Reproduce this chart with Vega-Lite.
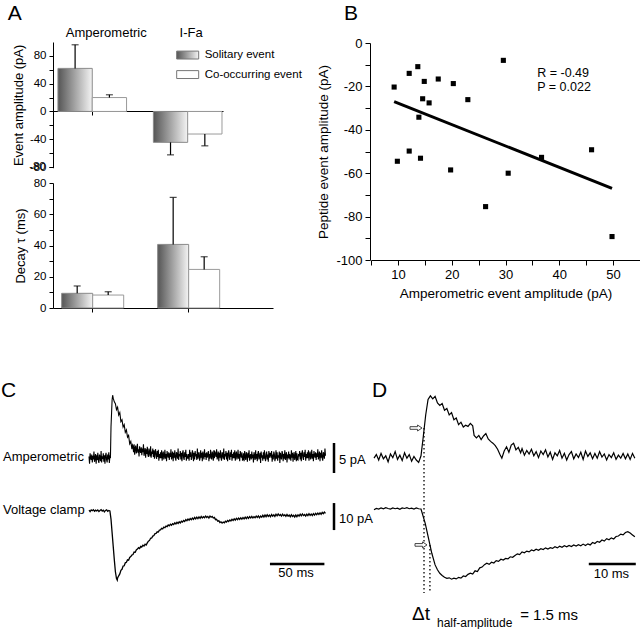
{
"$schema":"https://vega.github.io/schema/vega-lite/v6.json",
"width":640,"height":629,"autosize":{"type":"none"},"padding":0,"background":"white",
"config":{"font":"Liberation Sans","view":{"stroke":null},"axis":{"grid":false,"domainColor":"black","tickColor":"black","labelColor":"black","titleColor":"black","titleFontWeight":"normal","labelOverlap":false,"labelFlush":false,"labelBound":false}},
"datasets":{
"bars":[
{"measure":"amp","group":"Amperometric","type":"Solitary event","value":62,"errEnd":96},
{"measure":"amp","group":"Amperometric","type":"Co-occurring event","value":20,"errEnd":24},
{"measure":"amp","group":"I-Fa","type":"Solitary event","value":-44.5,"errEnd":-62.5},
{"measure":"amp","group":"I-Fa","type":"Co-occurring event","value":-32.5,"errEnd":-49.5},
{"measure":"decay","group":"Amperometric","type":"Solitary event","value":9.4,"errEnd":14.1},
{"measure":"decay","group":"Amperometric","type":"Co-occurring event","value":8.3,"errEnd":10.4},
{"measure":"decay","group":"I-Fa","type":"Solitary event","value":40.7,"errEnd":70.8},
{"measure":"decay","group":"I-Fa","type":"Co-occurring event","value":24.7,"errEnd":32.8}],
"pts":[{"amp":9.3,"pep":-20.3},{"amp":12.1,"pep":-14},{"amp":13.7,"pep":-10.9},{"amp":14.9,"pep":-17.7},{"amp":17.5,"pep":-16.6},{"amp":20.3,"pep":-18.7},{"amp":14.6,"pep":-25.7},{"amp":15.8,"pep":-27.6},{"amp":23,"pep":-26.1},{"amp":29.6,"pep":-8},{"amp":13.9,"pep":-34.2},{"amp":9.9,"pep":-54.5},{"amp":12.1,"pep":-49.8},{"amp":14.2,"pep":-53.1},{"amp":36.7,"pep":-52.7},{"amp":46,"pep":-49.2},{"amp":19.8,"pep":-58.5},{"amp":30.5,"pep":-60},{"amp":26.3,"pep":-75.4},{"amp":49.8,"pep":-89.2}],
"fit":[{"amp":9.3,"pep":-27},{"amp":49.8,"pep":-67}],
"cAmp":[{"t":0,"v":0.1},{"t":0.5,"v":-1.1},{"t":1,"v":0.6},{"t":1.5,"v":-0.1},{"t":2,"v":-0.5},{"t":2.5,"v":0.4},{"t":3,"v":-0.9},{"t":3.5,"v":0.2},{"t":4,"v":-0.4},{"t":4.5,"v":0.9},{"t":5,"v":-0.8},{"t":5.5,"v":-0.2},{"t":6,"v":0.5},{"t":6.5,"v":-1.1},{"t":7,"v":0.3},{"t":7.5,"v":-0.5},{"t":8,"v":0.7},{"t":8.5,"v":-0.6},{"t":9,"v":-1},{"t":9.5,"v":0.4},{"t":10,"v":0},{"t":10.5,"v":-0.7},{"t":11,"v":1},{"t":11.5,"v":-0.9},{"t":12,"v":0.1},{"t":12.5,"v":-0.3},{"t":13,"v":0.6},{"t":13.5,"v":-0.8},{"t":14,"v":0.3},{"t":14.5,"v":-1.1},{"t":15,"v":0.2},{"t":15.5,"v":0.7},{"t":16,"v":-0.5},{"t":16.5,"v":-0.9},{"t":17,"v":0.4},{"t":17.5,"v":-0.4},{"t":18,"v":0.8},{"t":18.5,"v":-1},{"t":19,"v":0.1},
{"t":19.5,"v":0},{"t":20,"v":5},{"t":21,"v":9.5},{"t":21.5,"v":10.3},{"t":22,"v":9.8},{"t":23,"v":9.2},{"t":24,"v":8.9},{"t":25,"v":7.9},{"t":26,"v":8.3},{"t":27,"v":7},{"t":28,"v":7.4},{"t":29,"v":5.9},{"t":30,"v":6.2},{"t":31,"v":5},{"t":32,"v":5.4},{"t":33,"v":4.1},{"t":34,"v":4.5},{"t":35,"v":3.3},{"t":36,"v":3.6},{"t":37,"v":2.2},{"t":38,"v":2.6},{"t":39,"v":1.3},{"t":39.5,"v":2},
{"t":40,"v":1.8},{"t":40.5,"v":0.8},{"t":41,"v":2.1},{"t":41.5,"v":0.4},{"t":42,"v":1.4},{"t":42.5,"v":1.9},{"t":43,"v":0.6},{"t":43.5,"v":1.1},{"t":44,"v":2.2},{"t":44.5,"v":0.7},
{"t":45,"v":1.3},{"t":45.5,"v":0.1},{"t":46,"v":1.8},{"t":46.5,"v":1.1},{"t":47,"v":0.7},{"t":47.5,"v":1.6},{"t":48,"v":0.3},{"t":48.5,"v":1.4},{"t":49,"v":0.8},{"t":49.5,"v":2.1},
{"t":50,"v":0.2},{"t":50.5,"v":0.8},{"t":51,"v":1.5},{"t":51.5,"v":-0.1},{"t":52,"v":1.3},{"t":52.5,"v":0.5},{"t":53,"v":1.7},{"t":53.5,"v":0.4},{"t":54,"v":0},{"t":54.5,"v":1.4},
{"t":55,"v":0.8},{"t":55.5,"v":0.1},{"t":56,"v":1.8},{"t":56.5,"v":-0.1},{"t":57,"v":0.9},{"t":57.5,"v":0.5},{"t":58,"v":1.4},{"t":58.5,"v":0},{"t":59,"v":1.1},{"t":59.5,"v":-0.3},
{"t":60,"v":0.8},{"t":60.5,"v":1.3},{"t":61,"v":0.1},{"t":61.5,"v":-0.3},{"t":62,"v":1},{"t":62.5,"v":0},{"t":63,"v":1.2},{"t":63.5,"v":-0.6},{"t":64,"v":0.5},{"t":64.5,"v":-0.2},
{"t":65,"v":0.8},{"t":65.5,"v":-0.2},{"t":66,"v":1.1},{"t":66.5,"v":-0.6},{"t":67,"v":0.4},{"t":67.5,"v":0.9},{"t":68,"v":-0.4},{"t":68.5,"v":0.1},{"t":69,"v":1.2},{"t":69.5,"v":-0.3},
{"t":70,"v":0.5},{"t":70.5,"v":-0.7},{"t":71,"v":1},{"t":71.5,"v":0.3},{"t":72,"v":-0.1},{"t":72.5,"v":0.8},{"t":73,"v":-0.5},{"t":73.5,"v":0.6},{"t":74,"v":0},{"t":74.5,"v":1.3},
{"t":75,"v":-0.4},{"t":75.5,"v":0.2},{"t":76,"v":0.9},{"t":76.5,"v":-0.7},{"t":77,"v":0.7},{"t":77.5,"v":-0.1},{"t":78,"v":1.1},{"t":78.5,"v":-0.2},{"t":79,"v":-0.6},{"t":79.5,"v":0.8},
{"t":80,"v":0.4},{"t":80.5,"v":-0.3},{"t":81,"v":1.4},{"t":81.5,"v":-0.5},{"t":82,"v":0.5},{"t":82.5,"v":0.1},{"t":83,"v":1},{"t":83.5,"v":-0.4},{"t":84,"v":0.7},{"t":84.5,"v":-0.7},
{"t":85,"v":0.6},{"t":85.5,"v":1.1},{"t":86,"v":-0.1},{"t":86.5,"v":-0.5},{"t":87,"v":0.8},{"t":87.5,"v":0},{"t":88,"v":1.2},{"t":88.5,"v":-0.6},{"t":89,"v":0.5},{"t":89.5,"v":-0.2},
{"t":90,"v":-0.2},{"t":90.5,"v":0.5},{"t":91,"v":-0.6},{"t":91.5,"v":1.2},{"t":92,"v":0},{"t":92.5,"v":0.8},{"t":93,"v":-0.5},{"t":93.5,"v":-0.1},{"t":94,"v":1.1},{"t":94.5,"v":0.6},
{"t":95,"v":-0.7},{"t":95.5,"v":0.7},{"t":96,"v":-0.4},{"t":96.5,"v":1},{"t":97,"v":0.1},{"t":97.5,"v":0.5},{"t":98,"v":-0.5},{"t":98.5,"v":1.4},{"t":99,"v":-0.3},{"t":99.5,"v":0.4},
{"t":100,"v":0.8},{"t":100.5,"v":-0.6},{"t":101,"v":-0.2},{"t":101.5,"v":1.1},{"t":102,"v":-0.1},{"t":102.5,"v":0.7},{"t":103,"v":-0.7},{"t":103.5,"v":0.9},{"t":104,"v":0.2},{"t":104.5,"v":-0.4},
{"t":105,"v":1.3},{"t":105.5,"v":0},{"t":106,"v":0.6},{"t":106.5,"v":-0.5},{"t":107,"v":0.8},{"t":107.5,"v":-0.1},{"t":108,"v":0.3},{"t":108.5,"v":1},{"t":109,"v":-0.7},{"t":109.5,"v":0.5},
{"t":110,"v":-0.3},{"t":110.5,"v":1.2},{"t":111,"v":0.1},{"t":111.5,"v":-0.4},{"t":112,"v":0.9},{"t":112.5,"v":0.4},{"t":113,"v":-0.6},{"t":113.5,"v":1.1},{"t":114,"v":-0.2},{"t":114.5,"v":0.8},
{"t":115,"v":0.6},{"t":115.5,"v":0},{"t":116,"v":1.3},{"t":116.5,"v":-0.4},{"t":117,"v":0.2},{"t":117.5,"v":0.9},{"t":118,"v":-0.7},{"t":118.5,"v":0.7},{"t":119,"v":-0.1},{"t":119.5,"v":1.1},
{"t":120,"v":-0.2},{"t":120.5,"v":-0.6},{"t":121,"v":0.8},{"t":121.5,"v":0.4},{"t":122,"v":-0.3},{"t":122.5,"v":1.4},{"t":123,"v":-0.5},{"t":123.5,"v":0.5},{"t":124,"v":0.1},{"t":124.5,"v":1},
{"t":125,"v":-0.4},{"t":125.5,"v":0.7},{"t":126,"v":-0.7},{"t":126.5,"v":0.6},{"t":127,"v":1.1},{"t":127.5,"v":-0.1},{"t":128,"v":-0.5},{"t":128.5,"v":0.8},{"t":129,"v":0},{"t":129.5,"v":1.2},
{"t":130,"v":-0.6},{"t":130.5,"v":0.5},{"t":131,"v":-0.2},{"t":131.5,"v":0.8},{"t":132,"v":-0.2},{"t":132.5,"v":1.1},{"t":133,"v":-0.6},{"t":133.5,"v":0.4},{"t":134,"v":0.9},{"t":134.5,"v":-0.4},
{"t":135,"v":0.1},{"t":135.5,"v":1.2},{"t":136,"v":-0.3},{"t":136.5,"v":0.5},{"t":137,"v":-0.7},{"t":137.5,"v":1},{"t":138,"v":0.3},{"t":138.5,"v":-0.1},{"t":139,"v":0.8},{"t":139.5,"v":-0.5},
{"t":140,"v":-0.4},{"t":140.5,"v":0.6},{"t":141,"v":-0.7},{"t":141.5,"v":1},{"t":142,"v":0},{"t":142.5,"v":-0.5},{"t":143,"v":0.8},{"t":143.5,"v":0.3},{"t":144,"v":-0.8},{"t":144.5,"v":0.7},
{"t":145,"v":-0.1},{"t":145.5,"v":1.1},{"t":146,"v":-0.6},{"t":146.5,"v":0.1},{"t":147,"v":0.5},{"t":147.5,"v":-0.4},{"t":148,"v":0.9},{"t":148.5,"v":-0.2},{"t":149,"v":0.4},{"t":149.5,"v":-0.9},
{"t":150,"v":0.8},{"t":150.5,"v":0.2},{"t":151,"v":-0.5},{"t":151.5,"v":1.1},{"t":152,"v":-0.3},{"t":152.5,"v":0.5},{"t":153,"v":-0.7},{"t":153.5,"v":0.6},{"t":154,"v":1},{"t":154.5,"v":-0.4},
{"t":155,"v":0},{"t":155.5,"v":0.7},{"t":156,"v":-1},{"t":156.5,"v":0.9},{"t":157,"v":-0.1},{"t":157.5,"v":0.3},{"t":158,"v":-0.6},{"t":158.5,"v":0.8},{"t":159,"v":-0.3},{"t":159.5,"v":1.1},
{"t":160,"v":-0.2},{"t":160.5,"v":-0.7},{"t":161,"v":0.5},{"t":161.5,"v":0.9},{"t":162,"v":-0.4},{"t":162.5,"v":0.4},{"t":163,"v":-0.8},{"t":163.5,"v":1},{"t":164,"v":-0.1},{"t":164.5,"v":0.6},
{"t":165,"v":0.6},{"t":165.5,"v":-0.1},{"t":166,"v":1},{"t":166.5,"v":-0.8},{"t":167,"v":0.4},{"t":167.5,"v":-0.4},{"t":168,"v":0.9},{"t":168.5,"v":0.5},{"t":169,"v":-0.7},{"t":169.5,"v":-0.2},
{"t":170,"v":1.1},{"t":170.5,"v":-0.3},{"t":171,"v":0.8},{"t":171.5,"v":-0.6},{"t":172,"v":0.3},{"t":172.5,"v":-0.1},{"t":173,"v":0.9},{"t":173.5,"v":-1},{"t":174,"v":0.7},{"t":174.5,"v":0},
{"t":175,"v":-0.4},{"t":175.5,"v":1},{"t":176,"v":0.6},{"t":176.5,"v":-0.7},{"t":177,"v":0.5},{"t":177.5,"v":-0.3},{"t":178,"v":1.1},{"t":178.5,"v":-0.5},{"t":179,"v":0.2},{"t":179.5,"v":0.8},
{"t":180,"v":-0.9},{"t":180.5,"v":0.4},{"t":181,"v":-0.2},{"t":181.5,"v":0.9},{"t":182,"v":-0.4},{"t":182.5,"v":0.5},{"t":183,"v":0.1},{"t":183.5,"v":-0.6},{"t":184,"v":1.1},{"t":184.5,"v":-0.1},
{"t":185,"v":0.7},{"t":185.5,"v":-0.8},{"t":186,"v":0.3},{"t":186.5,"v":0.8},{"t":187,"v":-0.5},{"t":187.5,"v":0},{"t":188,"v":1},{"t":188.5,"v":-0.7},{"t":189,"v":0.6},{"t":189.5,"v":-0.4},
{"t":190,"v":-0.5},{"t":190.5,"v":0.5},{"t":191,"v":0.1},{"t":191.5,"v":1},{"t":192,"v":-0.4},{"t":192.5,"v":0.7},{"t":193,"v":-0.7},{"t":193.5,"v":0.6},{"t":194,"v":1.1},{"t":194.5,"v":-0.1},
{"t":195,"v":-0.5},{"t":195.5,"v":0.8},{"t":196,"v":0},{"t":196.5,"v":1.2},{"t":197,"v":-0.6},{"t":197.5,"v":0.5},{"t":198,"v":-0.2},{"t":198.5,"v":0.8},{"t":199,"v":-0.2},{"t":199.5,"v":1.1},
{"t":200,"v":-0.6},{"t":200.5,"v":0.4},{"t":201,"v":0.9},{"t":201.5,"v":-0.4},{"t":202,"v":0.1},{"t":202.5,"v":1.2},{"t":203,"v":-0.3},{"t":203.5,"v":0.5},{"t":204,"v":-0.7},{"t":204.5,"v":1},
{"t":205,"v":0.3},{"t":205.5,"v":-0.1},{"t":206,"v":0.8},{"t":206.5,"v":-0.5},{"t":207,"v":0.6},{"t":207.5,"v":0},{"t":208,"v":1.3},{"t":208.5,"v":-0.4},{"t":209,"v":0.2},{"t":209.5,"v":0.9},
{"t":210,"v":-0.7},{"t":210.5,"v":0.7},{"t":211,"v":-0.1},{"t":211.5,"v":1.1},{"t":212,"v":-0.2},{"t":212.5,"v":-0.6},{"t":213,"v":0.8},{"t":213.5,"v":0.4},{"t":214,"v":-0.3},{"t":214.5,"v":1.4},{"t":215,"v":0.2}],
"cVC":[{"t":0,"v":0.3},{"t":1,"v":-0.2},{"t":2,"v":0.4},{"t":3,"v":0.1},{"t":4,"v":0.5},{"t":5,"v":-0.1},{"t":6,"v":0.3},{"t":7,"v":0},{"t":8,"v":0.4},{"t":9,"v":-0.2},{"t":10,"v":0.2},{"t":11,"v":0.5},{"t":12,"v":0},{"t":13,"v":0.3},{"t":14,"v":-0.3},{"t":15,"v":0.2},{"t":16,"v":0.4},{"t":17,"v":-0.1},{"t":18,"v":0.2},{"t":19,"v":0},{"t":20,"v":-3},{"t":21,"v":-8},{"t":22,"v":-13},{"t":23,"v":-18},{"t":24,"v":-22.5},{"t":25,"v":-25},{"t":25.7,"v":-25.6},
{"t":26,"v":-24.8},{"t":27,"v":-24},{"t":28,"v":-23.3},{"t":29,"v":-22},{"t":30,"v":-21.6},{"t":31,"v":-20.4},{"t":32,"v":-20.3},{"t":33,"v":-19.2},{"t":34,"v":-19},{"t":35,"v":-18.1},{"t":36,"v":-18.2},{"t":37,"v":-17.2},{"t":38,"v":-16.9},{"t":39,"v":-16.3},{"t":40,"v":-16.1},{"t":41,"v":-15.2},{"t":42,"v":-15.3},{"t":43,"v":-14.4},{"t":44,"v":-14.1},{"t":45,"v":-13.6},{"t":46,"v":-13.9},{"t":47,"v":-13.1},{"t":48,"v":-13.3},{"t":49,"v":-12.7},{"t":50,"v":-13},{"t":51,"v":-12.3},{"t":52,"v":-12.6},{"t":53,"v":-11.8},{"t":54,"v":-11.2},{"t":55,"v":-10.9},{"t":56,"v":-10.1},{"t":57,"v":-10},{"t":58,"v":-9.3},{"t":59,"v":-9.1},{"t":60,"v":-8.4},{"t":61,"v":-8.3},{"t":62,"v":-7.7},{"t":63,"v":-7.8},{"t":64,"v":-7.1},{"t":65,"v":-7},{"t":66,"v":-6.4},{"t":67,"v":-6.6},{"t":68,"v":-6},{"t":69,"v":-6.2},{"t":70,"v":-5.6},{"t":71,"v":-5.8},{"t":72,"v":-5.2},{"t":73,"v":-5.5},{"t":74,"v":-4.9},{"t":75,"v":-5.3},{"t":76,"v":-4.7},{"t":77,"v":-5},{"t":78,"v":-4.4},{"t":79,"v":-4.8},{"t":80,"v":-4.2},{"t":81,"v":-4.6},{"t":82,"v":-4},{"t":83,"v":-4.4},{"t":84,"v":-3.8},{"t":85,"v":-4.1},{"t":86,"v":-3.5},{"t":87,"v":-3.9},{"t":88,"v":-3.2},{"t":89,"v":-3.6},{"t":90,"v":-3},{"t":91,"v":-3.4},{"t":92,"v":-2.8},{"t":93,"v":-3.2},{"t":94,"v":-2.6},{"t":95,"v":-3.1},{"t":96,"v":-2.4},{"t":97,"v":-2.9},{"t":98,"v":-2.3},{"t":99,"v":-2.8},{"t":100,"v":-2.2},{"t":101,"v":-2.7},{"t":102,"v":-2},{"t":103,"v":-2.6},{"t":104,"v":-2.1},{"t":105,"v":-2.5},{"t":106,"v":-1.9},{"t":107,"v":-2.4},{"t":108,"v":-2},{"t":109,"v":-2.6},{"t":110,"v":-1.9},{"t":111,"v":-2.3},{"t":112,"v":-2},{"t":113,"v":-2.6},{"t":114,"v":-2.4},{"t":115,"v":-3.2},{"t":116,"v":-3.1},{"t":117,"v":-3.8},{"t":118,"v":-3.6},{"t":119,"v":-4.3},{"t":120,"v":-4},{"t":121,"v":-4.5},{"t":122,"v":-4.1},{"t":123,"v":-4.4},{"t":124,"v":-3.8},{"t":125,"v":-4.1},{"t":126,"v":-3.5},{"t":127,"v":-3.9},{"t":128,"v":-3.3},{"t":129,"v":-3.7},{"t":130,"v":-3.1},{"t":131,"v":-3.5},{"t":132,"v":-2.9},{"t":133,"v":-3.4},{"t":134,"v":-2.7},{"t":135,"v":-3.2},{"t":136,"v":-2.6},{"t":137,"v":-3.1},{"t":138,"v":-2.5},{"t":139,"v":-3},{"t":140,"v":-2.4},{"t":141,"v":-2.9},{"t":142,"v":-2.3},{"t":143,"v":-2.8},{"t":144,"v":-2.2},{"t":145,"v":-2.7},{"t":146,"v":-2.1},{"t":147,"v":-2.6},{"t":148,"v":-2},{"t":149,"v":-2.6},{"t":150,"v":-2.1},{"t":151,"v":-2.5},{"t":152,"v":-1.9},{"t":153,"v":-2.4},{"t":154,"v":-1.8},{"t":155,"v":-2.5},{"t":156,"v":-1.9},{"t":157,"v":-2.3},{"t":158,"v":-1.6},{"t":159,"v":-2.2},{"t":160,"v":-1.5},{"t":161,"v":-2.1},{"t":162,"v":-1.4},{"t":163,"v":-2},{"t":164,"v":-1.5},{"t":165,"v":-2.1},{"t":166,"v":-1.3},{"t":167,"v":-1.9},{"t":168,"v":-1.4},{"t":169,"v":-2},{"t":170,"v":-1.2},{"t":171,"v":-1.8},{"t":172,"v":-1.1},{"t":173,"v":-1.7},{"t":174,"v":-1.3},{"t":175,"v":-1.9},{"t":176,"v":-1.2},{"t":177,"v":-1.8},{"t":178,"v":-1.4},{"t":179,"v":-2},{"t":180,"v":-1.3},{"t":181,"v":-1.9},{"t":182,"v":-1.5},{"t":183,"v":-2.1},{"t":184,"v":-1.4},{"t":185,"v":-2},{"t":186,"v":-1.6},{"t":187,"v":-2.2},{"t":188,"v":-1.5},{"t":189,"v":-2.1},{"t":190,"v":-1.4},{"t":191,"v":-1.9},{"t":192,"v":-1.2},{"t":193,"v":-1.8},{"t":194,"v":-1.1},{"t":195,"v":-1.7},{"t":196,"v":-1.3},{"t":197,"v":-1.9},{"t":198,"v":-1.2},{"t":199,"v":-1.7},{"t":200,"v":-1},{"t":201,"v":-1.6},{"t":202,"v":-1.1},{"t":203,"v":-1.7},{"t":204,"v":-1},{"t":205,"v":-1.5},{"t":206,"v":-0.9},{"t":207,"v":-1.4},{"t":208,"v":-0.8},{"t":209,"v":-1.3},{"t":210,"v":-0.7},{"t":211,"v":-1.2},{"t":212,"v":-0.5},{"t":213,"v":-1},{"t":214,"v":-0.4},{"t":215,"v":-0.9}],
"dAmp":[{"t":0,"v":-0.2},{"t":0.5,"v":0.4},{"t":1,"v":-0.5},{"t":1.5,"v":0.6},{"t":2,"v":-0.3},{"t":2.5,"v":0.2},{"t":3,"v":-0.8},{"t":3.5,"v":0.5},{"t":4,"v":-0.1},{"t":4.5,"v":0.9},{"t":5,"v":-0.4},{"t":5.5,"v":0.3},{"t":6,"v":-0.6},{"t":6.5,"v":0.7},{"t":7,"v":-0.2},{"t":7.5,"v":0.4},{"t":8,"v":-0.7},{"t":8.5,"v":0.1},{"t":9,"v":-0.5},{"t":9.5,"v":-0.9},{"t":10,"v":0.2},{"t":10.5,"v":3.5},{"t":11,"v":7},{"t":11.5,"v":9.6},{"t":12,"v":10.2},{"t":12.5,"v":9.7},{"t":13,"v":10.1},{"t":13.5,"v":9},{"t":14,"v":8.6},{"t":14.5,"v":8.9},{"t":15,"v":7.8},{"t":15.5,"v":8.1},{"t":16,"v":7},{"t":16.5,"v":7.4},{"t":17,"v":6.2},{"t":17.5,"v":6.5},{"t":18,"v":5.4},{"t":18.5,"v":5.8},{"t":19,"v":5},{"t":19.5,"v":5.3},{"t":20,"v":5.1},{"t":20.5,"v":5.6},{"t":21,"v":5.2},{"t":21.3,"v":3.6},{"t":21.8,"v":3.2},{"t":22.3,"v":3.6},{"t":22.8,"v":2.9},{"t":23.3,"v":3.5},{"t":23.8,"v":3.9},{"t":24.3,"v":3},{"t":24.8,"v":2.6},{"t":25.3,"v":2.3},{"t":25.8,"v":1.9},{"t":26.3,"v":1.3},{"t":26.8,"v":0.4},{"t":27.2,"v":-0.2},{"t":27.7,"v":1},{"t":28.2,"v":1.7},{"t":28.7,"v":0.8},{"t":29.2,"v":2},{"t":29.7,"v":2.3},{"t":30.2,"v":1.2},{"t":30.7,"v":1.6},{"t":31.2,"v":0.7},{"t":31.5,"v":1.4},{"t":32,"v":0.3},{"t":32.5,"v":1.1},{"t":33,"v":0.5},{"t":33.5,"v":1.3},{"t":34,"v":0.2},{"t":34.5,"v":0.9},{"t":35,"v":-0.1},{"t":35.5,"v":1},{"t":36,"v":0.4},{"t":36.5,"v":1.2},{"t":37,"v":0},{"t":37.5,"v":0.8},{"t":38,"v":-0.4},{"t":38.5,"v":0.7},{"t":39,"v":0.2},{"t":39.5,"v":1.1},{"t":40,"v":-0.2},{"t":40.5,"v":0.6},{"t":41,"v":-0.5},{"t":41.5,"v":0.4},{"t":42,"v":0.9},{"t":42.5,"v":-0.3},{"t":43,"v":0.5},{"t":43.5,"v":-0.1},{"t":44,"v":0.8},{"t":44.5,"v":-0.4},{"t":45,"v":1},{"t":45.5,"v":0.1},{"t":46,"v":0.7},{"t":46.5,"v":-0.3},{"t":47,"v":0.6},{"t":47.5,"v":-0.2},{"t":48,"v":0.9},{"t":48.5,"v":0},{"t":49,"v":0.5},{"t":49.5,"v":-0.5},{"t":50,"v":0.4},{"t":50.5,"v":-0.1},{"t":51,"v":0.7},{"t":51.5,"v":-0.4},{"t":52,"v":0.3},{"t":52.5,"v":-0.2},{"t":53,"v":0.6},{"t":53.5,"v":-0.3},{"t":54,"v":0.5},{"t":54.5,"v":-0.4},{"t":55,"v":0.6},{"t":55.5,"v":-0.2}],
"dVC":[{"t":0,"v":-0.3},{"t":0.5,"v":0.2},{"t":1,"v":0},{"t":1.5,"v":0.4},{"t":2,"v":0.1},{"t":2.5,"v":0.5},{"t":3,"v":0.2},{"t":3.5,"v":0},{"t":4,"v":0.4},{"t":4.5,"v":0.1},{"t":5,"v":0.3},{"t":5.5,"v":-0.1},{"t":6,"v":0.4},{"t":6.5,"v":0.2},{"t":7,"v":0.5},{"t":7.5,"v":0.1},{"t":8,"v":0.3},{"t":8.5,"v":0},{"t":9,"v":0.4},{"t":9.5,"v":0.1},{"t":10,"v":0},{"t":10.9,"v":-5.3},{"t":11.6,"v":-10.9},{"t":12.3,"v":-16.4},{"t":13,"v":-20.7},{"t":13.5,"v":-22.5},{"t":14,"v":-23.8},{"t":14.5,"v":-24.6},{"t":15,"v":-25.3},{"t":15.5,"v":-25.7},{"t":16,"v":-25.5},{"t":16.5,"v":-26},{"t":17,"v":-25.6},{"t":17.5,"v":-25.9},{"t":18,"v":-25.3},{"t":18.5,"v":-25.6},{"t":19,"v":-24.8},{"t":19.5,"v":-25},{"t":20,"v":-24.2},{"t":20.5,"v":-23.8},{"t":21,"v":-24.1},{"t":21.5,"v":-22.9},{"t":22,"v":-23.2},{"t":22.5,"v":-21.8},{"t":23,"v":-21.5},{"t":23.5,"v":-20.6},{"t":24,"v":-20.1},{"t":24.5,"v":-20.5},{"t":25,"v":-19.7},{"t":25.5,"v":-20},{"t":26,"v":-19.1},{"t":26.5,"v":-19.4},{"t":27,"v":-18.6},{"t":27.5,"v":-18.9},{"t":28,"v":-18.3},{"t":28.5,"v":-18.5},{"t":29,"v":-17.7},{"t":29.5,"v":-17.9},{"t":30,"v":-17.2},{"t":30.5,"v":-16.6},{"t":31,"v":-16.9},{"t":31.5,"v":-15.9},{"t":32,"v":-16.2},{"t":32.5,"v":-15.6},{"t":33,"v":-15.9},{"t":33.5,"v":-15.2},{"t":34,"v":-15.5},{"t":34.5,"v":-14.9},{"t":35,"v":-15.3},{"t":35.5,"v":-14.7},{"t":36,"v":-15},{"t":36.5,"v":-14.4},{"t":37,"v":-14.8},{"t":37.5,"v":-14.3},{"t":38,"v":-14.6},{"t":38.5,"v":-14},{"t":39,"v":-14.4},{"t":39.5,"v":-13.8},{"t":40,"v":-14.2},{"t":40.5,"v":-13.6},{"t":41,"v":-14},{"t":41.5,"v":-13.5},{"t":42,"v":-13.9},{"t":42.5,"v":-13.3},{"t":43,"v":-13.7},{"t":43.5,"v":-13.2},{"t":44,"v":-13.6},{"t":44.5,"v":-13},{"t":45,"v":-13.5},{"t":45.5,"v":-12.9},{"t":46,"v":-13.3},{"t":46.5,"v":-12.4},{"t":47,"v":-12.8},{"t":47.5,"v":-12},{"t":48,"v":-12.3},{"t":48.5,"v":-11.5},{"t":49,"v":-11.9},{"t":49.5,"v":-11},{"t":50,"v":-11.4},{"t":50.5,"v":-10.7},{"t":51,"v":-11.1},{"t":51.5,"v":-10.2},{"t":52,"v":-10},{"t":52.5,"v":-9.3},{"t":53,"v":-9.6},{"t":53.5,"v":-8.7},{"t":54,"v":-8.4},{"t":54.5,"v":-8.9},{"t":55,"v":-9.6},{"t":55.5,"v":-10.3}]
},
"resolve":{"scale":{"x":"independent","y":"independent","xOffset":"independent"},"axis":{"x":"independent","y":"independent"}},
"layer":[
{
"data":{"name":"bars"},
"transform":[{"filter":"datum.measure === 'amp'"}],
"resolve":{"axis":{"x":"independent","y":"independent"}},
"layer":[
{"transform":[{"filter":"datum.type === 'Solitary event'"}],
"mark":{"type":"bar","fill":{"gradient":"linear","x1":0,"y1":0,"x2":1,"y2":0,"stops":[{"offset":0,"color":"#555555"},{"offset":1,"color":"#f4f4f4"}]},"stroke":"#8a8a8a","strokeWidth":1},
"encoding":{
"x":{"field":"group","type":"nominal","scale":{"domain":["Amperometric","I-Fa"],"range":[53,223],"paddingInner":0.281,"paddingOuter":0.03125,"align":0.83},"axis":{"orient":"bottom","offset":-518,"labels":false,"title":null,"tickSize":4}},
"xOffset":{"field":"type","type":"nominal","scale":{"domain":["Solitary event","Co-occurring event"],"paddingInner":0,"paddingOuter":0}},
"y":{"field":"value","type":"quantitative","scale":{"domain":[-81,100],"range":[167.7,42],"nice":false,"zero":false},"axis":{"orient":"left","offset":-53,"values":[-80,-40,0,40,80],"labelExpr":"'' + datum.value","title":"Event amplitude (pA)","tickSize":4,"labelPadding":3,"labelFontSize":11.5,"titleFontSize":13,"titlePadding":4,"labelOverlap":false,"labelBound":false}},
"y2":{"datum":0}
}},
{"transform":[{"filter":"datum.type === 'Co-occurring event'"}],
"mark":{"type":"bar","fill":"white","stroke":"#9a9a9a","strokeWidth":1},
"encoding":{
"x":{"field":"group","type":"nominal","scale":{"domain":["Amperometric","I-Fa"],"range":[53,223],"paddingInner":0.281,"paddingOuter":0.03125,"align":0.83},"axis":{"orient":"top","offset":-42,"domain":false,"ticks":false,"labelPadding":3,"labelFontSize":13,"labelAngle":0,"labelOffset":{"condition":{"test":"datum.value === 'Amperometric'","value":14},"value":3.5},"title":null}},
"xOffset":{"field":"type","type":"nominal","scale":{"domain":["Solitary event","Co-occurring event"],"paddingInner":0,"paddingOuter":0}},
"y":{"field":"value","type":"quantitative","scale":{"domain":[-81,100],"range":[167.7,42],"nice":false,"zero":false},"axis":{"orient":"left","offset":-53,"values":[-80,-60,-20,20,60],"labels":false,"domain":false,"title":null,"tickSize":4}},
"y2":{"datum":0}
}},
{"mark":{"type":"rule","color":"black","strokeWidth":1.2},
"encoding":{
"x":{"field":"group","type":"nominal","scale":{"domain":["Amperometric","I-Fa"],"range":[53,223],"paddingInner":0.281,"paddingOuter":0.03125,"align":0.83},"axis":null},
"xOffset":{"field":"type","type":"nominal","scale":{"domain":["Solitary event","Co-occurring event"],"paddingInner":0,"paddingOuter":0}},
"y":{"field":"value","type":"quantitative","scale":{"domain":[-81,100],"range":[167.7,42],"nice":false,"zero":false},"axis":null},
"y2":{"field":"errEnd"}
}},
{"mark":{"type":"tick","orient":"horizontal","color":"black","size":7,"thickness":1.2},
"encoding":{
"x":{"field":"group","type":"nominal","scale":{"domain":["Amperometric","I-Fa"],"range":[53,223],"paddingInner":0.281,"paddingOuter":0.03125,"align":0.83},"axis":null},
"xOffset":{"field":"type","type":"nominal","scale":{"domain":["Solitary event","Co-occurring event"],"paddingInner":0,"paddingOuter":0}},
"y":{"field":"errEnd","type":"quantitative","scale":{"domain":[-81,100],"range":[167.7,42],"nice":false,"zero":false},"axis":null}
}},
{"data":{"values":[{}]},
"mark":{"type":"text","text":"-80","align":"right","baseline":"middle","fontSize":11.5,"dx":-46.5},
"encoding":{
"x":{"datum":"Amperometric","type":"nominal","scale":{"domain":["Amperometric","I-Fa"],"range":[53,223],"paddingInner":0.281,"paddingOuter":0.03125,"align":0.83},"axis":null},
"y":{"datum":-80,"type":"quantitative","scale":{"domain":[-81,100],"range":[167.7,42],"nice":false,"zero":false},"axis":null}
}},
{"data":{"values":[{}]},
"mark":{"type":"point","shape":"M-1,-0.36L1,-0.36L1,0.36L-1,0.36Z","size":484,"filled":true,"fill":{"gradient":"linear","x1":0,"y1":0,"x2":1,"y2":0,"stops":[{"offset":0,"color":"#555555"},{"offset":1,"color":"#f4f4f4"}]},"stroke":"#777777","strokeWidth":1,"opacity":1},
"encoding":{
"x":{"datum":"I-Fa","type":"nominal","scale":{"domain":["Amperometric","I-Fa"],"range":[53,223],"paddingInner":0.281,"paddingOuter":0.03125,"align":0.83},"axis":null},
"y":{"datum":81.2,"type":"quantitative","scale":{"domain":[-81,100],"range":[167.7,42],"nice":false,"zero":false},"axis":null}
}},
{"data":{"values":[{}]},
"mark":{"type":"point","shape":"M-1,-0.36L1,-0.36L1,0.36L-1,0.36Z","size":484,"filled":true,"fill":"white","stroke":"#777777","strokeWidth":1,"opacity":1},
"encoding":{
"x":{"datum":"I-Fa","type":"nominal","scale":{"domain":["Amperometric","I-Fa"],"range":[53,223],"paddingInner":0.281,"paddingOuter":0.03125,"align":0.83},"axis":null},
"y":{"datum":53.1,"type":"quantitative","scale":{"domain":[-81,100],"range":[167.7,42],"nice":false,"zero":false},"axis":null}
}},
{"data":{"values":[{}]},
"mark":{"type":"text","text":"Solitary event","align":"left","baseline":"middle","fontSize":11.5,"dx":17},
"encoding":{
"x":{"datum":"I-Fa","type":"nominal","scale":{"domain":["Amperometric","I-Fa"],"range":[53,223],"paddingInner":0.281,"paddingOuter":0.03125,"align":0.83},"axis":null},
"y":{"datum":81.2,"type":"quantitative","scale":{"domain":[-81,100],"range":[167.7,42],"nice":false,"zero":false},"axis":null}
}},
{"data":{"values":[{}]},
"mark":{"type":"text","text":"Co-occurring event","align":"left","baseline":"middle","fontSize":11.5,"dx":17},
"encoding":{
"x":{"datum":"I-Fa","type":"nominal","scale":{"domain":["Amperometric","I-Fa"],"range":[53,223],"paddingInner":0.281,"paddingOuter":0.03125,"align":0.83},"axis":null},
"y":{"datum":53.1,"type":"quantitative","scale":{"domain":[-81,100],"range":[167.7,42],"nice":false,"zero":false},"axis":null}
}},
{"data":{"values":[{}]},
"mark":{"type":"text","text":"A","align":"left","baseline":"alphabetic","fontSize":21,"dx":-84.5},
"encoding":{
"x":{"datum":"Amperometric","type":"nominal","scale":{"domain":["Amperometric","I-Fa"],"range":[53,223],"paddingInner":0.281,"paddingOuter":0.03125,"align":0.83},"axis":null},
"y":{"datum":131.6,"type":"quantitative","scale":{"domain":[-81,100],"range":[167.7,42],"nice":false,"zero":false},"axis":null}
}}
]
},
{
"data":{"name":"bars"},
"transform":[{"filter":"datum.measure === 'decay'"}],
"resolve":{"axis":{"x":"independent","y":"independent"}},
"layer":[
{"transform":[{"filter":"datum.type === 'Solitary event'"}],
"mark":{"type":"bar","fill":{"gradient":"linear","x1":0,"y1":0,"x2":1,"y2":0,"stops":[{"offset":0,"color":"#555555"},{"offset":1,"color":"#f4f4f4"}]},"stroke":"#8a8a8a","strokeWidth":1},
"encoding":{
"x":{"field":"group","type":"nominal","scale":{"domain":["Amperometric","I-Fa"],"range":[53,273],"paddingInner":0.354,"paddingOuter":0.323,"align":0.14},"axis":{"orient":"bottom","offset":-321,"labels":false,"title":null,"tickSize":4}},
"xOffset":{"field":"type","type":"nominal","scale":{"domain":["Solitary event","Co-occurring event"],"paddingInner":0,"paddingOuter":0}},
"y":{"field":"value","type":"quantitative","scale":{"domain":[0,80],"range":[308,183],"nice":false,"zero":false},"axis":{"orient":"left","offset":-53,"values":[0,10,20,30,40,50,60,70,80],"labelExpr":"datum.value % 20 === 0 ? '' + datum.value : ''","title":"Decay τ (ms)","tickSize":4,"labelPadding":3,"labelFontSize":11.5,"titleFontSize":13,"titlePadding":6}},
"y2":{"datum":0}
}},
{"transform":[{"filter":"datum.type === 'Co-occurring event'"}],
"mark":{"type":"bar","fill":"white","stroke":"#9a9a9a","strokeWidth":1},
"encoding":{
"x":{"field":"group","type":"nominal","scale":{"domain":["Amperometric","I-Fa"],"range":[53,273],"paddingInner":0.354,"paddingOuter":0.323,"align":0.14},"axis":null},
"xOffset":{"field":"type","type":"nominal","scale":{"domain":["Solitary event","Co-occurring event"],"paddingInner":0,"paddingOuter":0}},
"y":{"field":"value","type":"quantitative","scale":{"domain":[0,80],"range":[308,183],"nice":false,"zero":false},"axis":null},
"y2":{"datum":0}
}},
{"mark":{"type":"rule","color":"black","strokeWidth":1.2},
"encoding":{
"x":{"field":"group","type":"nominal","scale":{"domain":["Amperometric","I-Fa"],"range":[53,273],"paddingInner":0.354,"paddingOuter":0.323,"align":0.14},"axis":null},
"xOffset":{"field":"type","type":"nominal","scale":{"domain":["Solitary event","Co-occurring event"],"paddingInner":0,"paddingOuter":0}},
"y":{"field":"value","type":"quantitative","scale":{"domain":[0,80],"range":[308,183],"nice":false,"zero":false},"axis":null},
"y2":{"field":"errEnd"}
}},
{"mark":{"type":"tick","orient":"horizontal","color":"black","size":7,"thickness":1.2},
"encoding":{
"x":{"field":"group","type":"nominal","scale":{"domain":["Amperometric","I-Fa"],"range":[53,273],"paddingInner":0.354,"paddingOuter":0.323,"align":0.14},"axis":null},
"xOffset":{"field":"type","type":"nominal","scale":{"domain":["Solitary event","Co-occurring event"],"paddingInner":0,"paddingOuter":0}},
"y":{"field":"errEnd","type":"quantitative","scale":{"domain":[0,80],"range":[308,183],"nice":false,"zero":false},"axis":null}
}}
]
},
{
"resolve":{"axis":{"x":"independent","y":"independent"}},
"layer":[
{"data":{"name":"pts"},
"mark":{"type":"point","shape":"square","filled":true,"color":"black","size":26,"opacity":1},
"encoding":{
"x":{"field":"amp","type":"quantitative","scale":{"domain":[5,55],"range":[371,640],"nice":false,"zero":false},"axis":{"orient":"bottom","offset":-369,"values":[5,10,15,20,25,30,35,40,45,50,55],"labelExpr":"datum.value % 10 === 0 ? '' + datum.value : ''","title":"Amperometric event amplitude (pA)","tickSize":5,"labelPadding":3,"labelFontSize":13,"titleFontSize":13.5,"titlePadding":5}},
"y":{"field":"pep","type":"quantitative","scale":{"domain":[-100,0],"range":[260,43],"nice":false,"zero":false},"axis":{"orient":"left","offset":-370,"values":[-100,-90,-80,-70,-60,-50,-40,-30,-20,-10,0],"labelExpr":"datum.value % 20 === 0 ? '' + datum.value : ''","title":"Peptide event amplitude (pA)","tickSize":5,"labelPadding":3,"labelFontSize":13,"titleFontSize":13.5,"titlePadding":5}}
}},
{"data":{"name":"fit"},
"mark":{"type":"line","color":"black","strokeWidth":3},
"encoding":{
"x":{"field":"amp","type":"quantitative","scale":{"domain":[5,55],"range":[371,640],"nice":false,"zero":false},"axis":null},
"y":{"field":"pep","type":"quantitative","scale":{"domain":[-100,0],"range":[260,43],"nice":false,"zero":false},"axis":null}
}},
{"data":{"values":[{}]},
"mark":{"type":"text","text":"R = -0.49","align":"left","baseline":"alphabetic","fontSize":12.5},
"encoding":{
"x":{"datum":35.9,"type":"quantitative","scale":{"domain":[5,55],"range":[371,640],"nice":false,"zero":false},"axis":null},
"y":{"datum":-15.5,"type":"quantitative","scale":{"domain":[-100,0],"range":[260,43],"nice":false,"zero":false},"axis":null}
}},
{"data":{"values":[{}]},
"mark":{"type":"text","text":"P = 0.022","align":"left","baseline":"alphabetic","fontSize":12.5},
"encoding":{
"x":{"datum":35.9,"type":"quantitative","scale":{"domain":[5,55],"range":[371,640],"nice":false,"zero":false},"axis":null},
"y":{"datum":-22,"type":"quantitative","scale":{"domain":[-100,0],"range":[260,43],"nice":false,"zero":false},"axis":null}
}},
{"data":{"values":[{}]},
"mark":{"type":"text","text":"B","align":"left","baseline":"alphabetic","fontSize":21},
"encoding":{
"x":{"datum":0,"type":"quantitative","scale":{"domain":[5,55],"range":[371,640],"nice":false,"zero":false},"axis":null},
"y":{"datum":10.6,"type":"quantitative","scale":{"domain":[-100,0],"range":[260,43],"nice":false,"zero":false},"axis":null}
}}
]
},
{
"resolve":{"scale":{"y":"independent"}},
"layer":[
{"layer":[
{"data":{"name":"cAmp"},
"mark":{"type":"line","color":"black","strokeWidth":1.1},
"encoding":{
"x":{"field":"t","type":"quantitative","scale":{"domain":[0,215],"range":[89,325.5],"nice":false,"zero":false},"axis":null},
"y":{"field":"v","type":"quantitative","scale":{"domain":[0,10],"range":[457,397],"nice":false,"zero":false},"axis":null}
}},
{"data":{"values":[{}]},
"mark":{"type":"text","text":"Amperometric","align":"left","baseline":"alphabetic","fontSize":13},
"encoding":{
"x":{"datum":-78.2,"type":"quantitative","scale":{"domain":[0,215],"range":[89,325.5],"nice":false,"zero":false},"axis":null},
"y":{"datum":-0.67,"type":"quantitative","scale":{"domain":[0,10],"range":[457,397],"nice":false,"zero":false},"axis":null}
}},
{"data":{"values":[{}]},
"mark":{"type":"text","text":"C","align":"left","baseline":"alphabetic","fontSize":21},
"encoding":{
"x":{"datum":-80,"type":"quantitative","scale":{"domain":[0,215],"range":[89,325.5],"nice":false,"zero":false},"axis":null},
"y":{"datum":10,"type":"quantitative","scale":{"domain":[0,10],"range":[457,397],"nice":false,"zero":false},"axis":null}
}}
]},
{"layer":[
{"data":{"name":"cVC"},
"mark":{"type":"line","color":"black","strokeWidth":1.3},
"encoding":{
"x":{"field":"t","type":"quantitative","scale":{"domain":[0,215],"range":[89,325.5],"nice":false,"zero":false},"axis":null},
"y":{"field":"v","type":"quantitative","scale":{"domain":[-30,0],"range":[592,511],"nice":false,"zero":false},"axis":null}
}},
{"data":{"values":[{}]},
"mark":{"type":"text","text":"Voltage clamp","align":"left","baseline":"alphabetic","fontSize":13},
"encoding":{
"x":{"datum":-78.2,"type":"quantitative","scale":{"domain":[0,215],"range":[89,325.5],"nice":false,"zero":false},"axis":null},
"y":{"datum":-1.1,"type":"quantitative","scale":{"domain":[-30,0],"range":[592,511],"nice":false,"zero":false},"axis":null}
}},
{"data":{"values":[{}]},
"mark":{"type":"rule","color":"black","strokeWidth":2.5},
"encoding":{
"x":{"datum":164.5,"type":"quantitative","scale":{"domain":[0,215],"range":[89,325.5],"nice":false,"zero":false},"axis":null},
"x2":{"datum":214},
"y":{"datum":-19.6,"type":"quantitative","scale":{"domain":[-30,0],"range":[592,511],"nice":false,"zero":false},"axis":null}
}},
{"data":{"values":[{}]},
"mark":{"type":"text","text":"50 ms","align":"center","baseline":"alphabetic","fontSize":13},
"encoding":{
"x":{"datum":188.2,"type":"quantitative","scale":{"domain":[0,215],"range":[89,325.5],"nice":false,"zero":false},"axis":null},
"y":{"datum":-24.4,"type":"quantitative","scale":{"domain":[-30,0],"range":[592,511],"nice":false,"zero":false},"axis":null}
}}
]}
]
},
{
"resolve":{"scale":{"y":"independent"}},
"layer":[
{"layer":[
{"data":{"name":"dAmp"},
"mark":{"type":"line","color":"black","strokeWidth":1.2},
"encoding":{
"x":{"field":"t","type":"quantitative","scale":{"domain":[0,56],"range":[374,637.2],"nice":false,"zero":false},"axis":null},
"y":{"field":"v","type":"quantitative","scale":{"domain":[0,10],"range":[457,397],"nice":false,"zero":false},"axis":null}
}},
{"data":{"values":[{}]},
"mark":{"type":"rule","color":"black","strokeWidth":2.5},
"encoding":{
"x":{"datum":-8.51,"type":"quantitative","scale":{"domain":[0,56],"range":[374,637.2],"nice":false,"zero":false},"axis":null},
"y":{"datum":-2.67,"type":"quantitative","scale":{"domain":[0,10],"range":[457,397],"nice":false,"zero":false},"axis":null},
"y2":{"datum":2.33}
}},
{"data":{"values":[{}]},
"mark":{"type":"text","text":"5 pA","align":"left","baseline":"alphabetic","fontSize":13},
"encoding":{
"x":{"datum":-7.45,"type":"quantitative","scale":{"domain":[0,56],"range":[374,637.2],"nice":false,"zero":false},"axis":null},
"y":{"datum":-1.17,"type":"quantitative","scale":{"domain":[0,10],"range":[457,397],"nice":false,"zero":false},"axis":null}
}},
{"data":{"values":[{}]},
"mark":{"type":"text","text":"D","align":"left","baseline":"alphabetic","fontSize":21},
"encoding":{
"x":{"datum":-0.43,"type":"quantitative","scale":{"domain":[0,56],"range":[374,637.2],"nice":false,"zero":false},"axis":null},
"y":{"datum":10,"type":"quantitative","scale":{"domain":[0,10],"range":[457,397],"nice":false,"zero":false},"axis":null}
}}
]},
{"layer":[
{"data":{"name":"dVC"},
"mark":{"type":"line","color":"black","strokeWidth":1.2},
"encoding":{
"x":{"field":"t","type":"quantitative","scale":{"domain":[0,56],"range":[374,637.2],"nice":false,"zero":false},"axis":null},
"y":{"field":"v","type":"quantitative","scale":{"domain":[-30,0],"range":[590,509],"nice":false,"zero":false},"axis":null}
}},
{"data":{"values":[{}]},
"mark":{"type":"rule","color":"black","strokeWidth":2.5},
"encoding":{
"x":{"datum":-8.51,"type":"quantitative","scale":{"domain":[0,56],"range":[374,637.2],"nice":false,"zero":false},"axis":null},
"y":{"datum":-7.8,"type":"quantitative","scale":{"domain":[-30,0],"range":[590,509],"nice":false,"zero":false},"axis":null},
"y2":{"datum":2.2}
}},
{"data":{"values":[{}]},
"mark":{"type":"text","text":"10 pA","align":"left","baseline":"alphabetic","fontSize":13},
"encoding":{
"x":{"datum":-7.45,"type":"quantitative","scale":{"domain":[0,56],"range":[374,637.2],"nice":false,"zero":false},"axis":null},
"y":{"datum":-5.2,"type":"quantitative","scale":{"domain":[-30,0],"range":[590,509],"nice":false,"zero":false},"axis":null}
}},
{"data":{"values":[{}]},
"mark":{"type":"rule","color":"black","strokeWidth":2.5},
"encoding":{
"x":{"datum":45.7,"type":"quantitative","scale":{"domain":[0,56],"range":[374,637.2],"nice":false,"zero":false},"axis":null},
"x2":{"datum":55.7},
"y":{"datum":-20.4,"type":"quantitative","scale":{"domain":[-30,0],"range":[590,509],"nice":false,"zero":false},"axis":null}
}},
{"data":{"values":[{}]},
"mark":{"type":"text","text":"10 ms","align":"center","baseline":"alphabetic","fontSize":13},
"encoding":{
"x":{"datum":50.5,"type":"quantitative","scale":{"domain":[0,56],"range":[374,637.2],"nice":false,"zero":false},"axis":null},
"y":{"datum":-25.6,"type":"quantitative","scale":{"domain":[-30,0],"range":[590,509],"nice":false,"zero":false},"axis":null}
}},
{"data":{"values":[{}]},
"mark":{"type":"rule","color":"black","strokeWidth":1.3,"strokeDash":[1.5,2.5]},
"encoding":{
"x":{"datum":10.64,"type":"quantitative","scale":{"domain":[0,56],"range":[374,637.2],"nice":false,"zero":false},"axis":null},
"y":{"datum":30,"type":"quantitative","scale":{"domain":[-30,0],"range":[590,509],"nice":false,"zero":false},"axis":null},
"y2":{"datum":-31.1}
}},
{"data":{"values":[{}]},
"mark":{"type":"rule","color":"black","strokeWidth":1.3,"strokeDash":[1.5,2.5]},
"encoding":{
"x":{"datum":11.9,"type":"quantitative","scale":{"domain":[0,56],"range":[374,637.2],"nice":false,"zero":false},"axis":null},
"y":{"datum":-13.3,"type":"quantitative","scale":{"domain":[-30,0],"range":[590,509],"nice":false,"zero":false},"axis":null},
"y2":{"datum":-31.1}
}},
{"data":{"values":[{}]},
"mark":{"type":"point","shape":"M-1,-0.22L0.25,-0.22L0.25,-0.5L1,0L0.25,0.5L0.25,0.22L-1,0.22Z","size":144,"filled":true,"fill":"white","stroke":"#444444","strokeWidth":1,"opacity":1},
"encoding":{
"x":{"datum":8.94,"type":"quantitative","scale":{"domain":[0,56],"range":[374,637.2],"nice":false,"zero":false},"axis":null},
"y":{"datum":30,"type":"quantitative","scale":{"domain":[-30,0],"range":[590,509],"nice":false,"zero":false},"axis":null}
}},
{"data":{"values":[{}]},
"mark":{"type":"point","shape":"M-1,-0.22L0.25,-0.22L0.25,-0.5L1,0L0.25,0.5L0.25,0.22L-1,0.22Z","size":144,"filled":true,"fill":"white","stroke":"#444444","strokeWidth":1,"opacity":1},
"encoding":{
"x":{"datum":10,"type":"quantitative","scale":{"domain":[0,56],"range":[374,637.2],"nice":false,"zero":false},"axis":null},
"y":{"datum":-13.3,"type":"quantitative","scale":{"domain":[-30,0],"range":[590,509],"nice":false,"zero":false},"axis":null}
}},
{"data":{"values":[{}]},
"mark":{"type":"text","text":"Δt","align":"left","baseline":"alphabetic","fontSize":19},
"encoding":{
"x":{"datum":8.1,"type":"quantitative","scale":{"domain":[0,56],"range":[374,637.2],"nice":false,"zero":false},"axis":null},
"y":{"datum":-41.1,"type":"quantitative","scale":{"domain":[-30,0],"range":[590,509],"nice":false,"zero":false},"axis":null}
}},
{"data":{"values":[{}]},
"mark":{"type":"text","text":"half-amplitude","align":"left","baseline":"alphabetic","fontSize":12},
"encoding":{
"x":{"datum":13.4,"type":"quantitative","scale":{"domain":[0,56],"range":[374,637.2],"nice":false,"zero":false},"axis":null},
"y":{"datum":-43.7,"type":"quantitative","scale":{"domain":[-30,0],"range":[590,509],"nice":false,"zero":false},"axis":null}
}},
{"data":{"values":[{}]},
"mark":{"type":"text","text":"= 1.5 ms","align":"left","baseline":"alphabetic","fontSize":15},
"encoding":{
"x":{"datum":31.1,"type":"quantitative","scale":{"domain":[0,56],"range":[374,637.2],"nice":false,"zero":false},"axis":null},
"y":{"datum":-41.1,"type":"quantitative","scale":{"domain":[-30,0],"range":[590,509],"nice":false,"zero":false},"axis":null}
}}
]}
]
}
]
}
